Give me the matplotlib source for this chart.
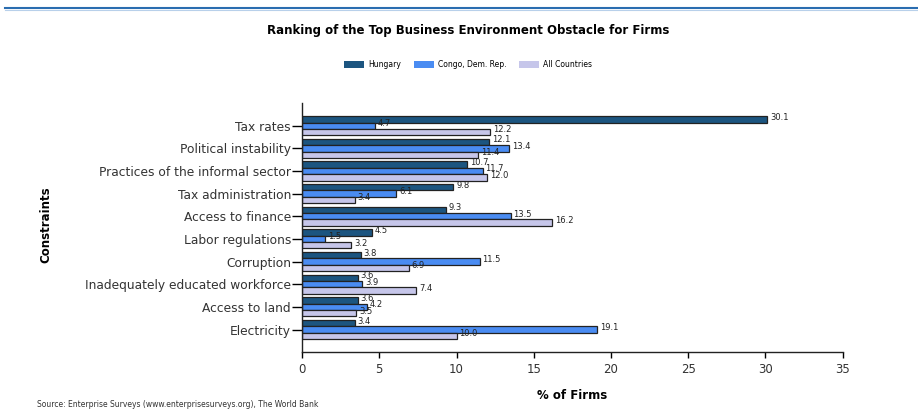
import numpy as np
import matplotlib.pyplot as plt
from matplotlib.patches import Patch

# data
constraints = [
    "Tax rates",
    "Political instability",
    "Practices of the informal sector",
    "Tax administration",
    "Access to finance",
    "Labor regulations",
    "Corruption",
    "Inadequately educated workforce",
    "Access to land",
    "Electricity",
]
hungary = [30.1, 12.1, 10.7, 9.8, 9.3, 4.5, 3.8, 3.6, 3.6, 3.4]
congo = [4.7, 13.4, 11.7, 6.1, 13.5, 1.5, 11.5, 3.9, 4.2, 19.1]
all_countries = [12.2, 11.4, 12.0, 3.4, 16.2, 3.2, 6.9, 7.4, 3.5, 10.0]

series_names = ["Hungary", "Congo, Dem. Rep.", "All Countries"]
colors = ["#1c5580", "#4a8cf2", "#c6c6ea"]

plt.rcParams['font.family'] = ['DejaVu Sans']

fig = plt.figure(figsize=(9.18, 4.09), dpi=100)
ax = fig.add_axes([0.329, 0.139, 0.589, 0.609])

y = np.arange(len(constraints))
h = 0.28
for i, (vals, col) in enumerate(zip([hungary, congo, all_countries], colors)):
    pos = y + (i - 1) * h
    ax.barh(pos, vals, height=h, color=col, edgecolor="#222222", linewidth=0.9)
    for p, v in zip(pos, vals):
        ax.annotate(f"{v:.1f}", (v, p), xytext=(2, 1.5), textcoords="offset points",
                    ha="left", va="center", fontsize=6, color="#222222")

ax.set_ylim(len(constraints), -1)
ax.set_xlim(0, 35)
ax.set_xticks(range(0, 36, 5))
ax.set_yticks(y)
ax.set_yticklabels(constraints, fontsize=8.8, color="#333333")
ax.tick_params(axis="y", length=7, width=1, pad=1)
ax.tick_params(axis="x", length=4, width=1, labelsize=8.5, labelcolor="#333333", pad=4)
for s in ["top", "right"]:
    ax.spines[s].set_visible(False)
for s in ["left", "bottom"]:
    ax.spines[s].set_color("#222222")
    ax.spines[s].set_linewidth(1)

ax.set_xlabel("% of Firms", fontsize=8.5, fontweight="bold", labelpad=9)
fig.text(0.05, 0.45, "Constraints", rotation=90, fontsize=8.5, fontweight="bold",
         ha="center", va="center")
fig.text(0.51, 0.925, "Ranking of the Top Business Environment Obstacle for Firms",
         fontsize=8.5, fontweight="bold", ha="center", va="center")

handles = [Patch(facecolor=c, edgecolor="none") for c in colors]
fig.legend(handles, series_names, loc="center", bbox_to_anchor=(0.51, 0.843),
           ncol=3, frameon=False, fontsize=5.5, handlelength=2.6, handleheight=1.0,
           columnspacing=1.6, handletextpad=0.6)

fig.text(0.04, 0.001, "Source: Enterprise Surveys (www.enterprisesurveys.org), The World Bank",
         fontsize=5.5, color="#333333", ha="left", va="bottom")

# thin blue rule along the top of the page
fig.add_artist(plt.Line2D([0.005, 1.0], [0.98, 0.98], transform=fig.transFigure,
                          color="#2a6db0", linewidth=1.5))
fig.add_artist(plt.Line2D([0.005, 1.0], [0.975, 0.975], transform=fig.transFigure,
                          color="#b8d0ea", linewidth=0.8))

fig.savefig("out.png", dpi=100)
